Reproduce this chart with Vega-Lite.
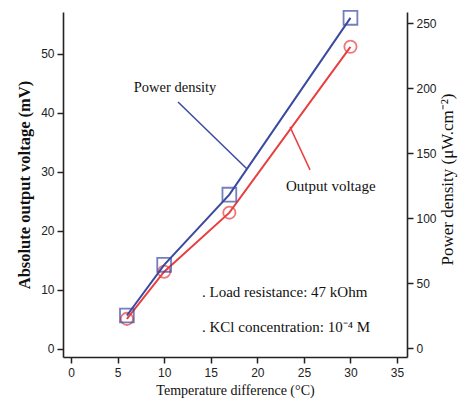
{
  "$schema": "https://vega.github.io/schema/vega-lite/v6.json",
  "width": 344,
  "height": 345,
  "autosize": {"type": "none"},
  "padding": {"left": 63, "top": 12, "right": 58, "bottom": 57},
  "background": "white",
  "config": {
    "view": {"stroke": null},
    "axis": {
      "grid": false,
      "domainColor": "#222",
      "tickColor": "#222",
      "labelColor": "#222",
      "titleColor": "#111",
      "labelFont": "Liberation Sans",
      "labelFontSize": 12,
      "titleFont": "Liberation Serif",
      "titleFontSize": 14,
      "titleFontWeight": "normal",
      "domainWidth": 1.6,
      "tickWidth": 1.5,
      "tickSize": 6,
      "labelPadding": 3
    },
    "text": {"font": "Liberation Serif", "fontSize": 15, "color": "#111"}
  },
  "datasets": {
    "meas": [
      {"dt": 6, "voltage": 5.1, "power": 25},
      {"dt": 10, "voltage": 13.1, "power": 64},
      {"dt": 17, "voltage": 23.1, "power": 118},
      {"dt": 30, "voltage": 51.2, "power": 254}
    ],
    "labels": [
      {"x": 11.17, "y": 44.2, "label": "Power density", "align": "center"},
      {"x": 23.08, "y": 27.6, "label": "Output voltage", "align": "left"},
      {"x": 14.06, "y": 9.66, "label": ". Load resistance: 47 kOhm", "align": "left"},
      {"x": 14.06, "y": 3.73, "label": ". KCl concentration: 10⁻⁴ M", "align": "left"}
    ],
    "pointers": [
      {"series": "power", "x": 11.49, "x2": 18.9, "y": 41.86, "y2": 30.5},
      {"series": "voltage", "x": 23.51, "x2": 25.66, "y": 37.63, "y2": 30.34}
    ]
  },
  "layer": [
    {
      "layer": [
        {
          "data": {"name": "meas"},
          "mark": {"type": "line", "color": "#e8403f", "strokeWidth": 2},
          "encoding": {
            "x": {
              "field": "dt", "type": "quantitative",
              "scale": {"domain": [-0.86, 36.07], "nice": false, "zero": false},
              "axis": {"values": [0, 5, 10, 15, 20, 25, 30, 35], "title": "Temperature difference (°C)", "titleFontSize": 14, "titlePadding": 5, "labelPadding": 4}
            },
            "y": {
              "field": "voltage", "type": "quantitative",
              "scale": {"domain": [-1.36, 57.1], "nice": false, "zero": false},
              "axis": {"orient": "left", "values": [0, 10, 20, 30, 40, 50], "title": "Absolute output voltage (mV)", "titleFontSize": 16.5, "titleFontWeight": "bold", "titlePadding": 8}
            }
          }
        },
        {
          "data": {"name": "meas"},
          "mark": {"type": "point", "shape": "circle", "filled": false, "color": "#e8403f", "size": 150, "strokeWidth": 1.8},
          "encoding": {
            "x": {"field": "dt", "type": "quantitative"},
            "y": {"field": "voltage", "type": "quantitative"}
          }
        },
        {
          "data": {"name": "pointers"},
          "transform": [{"filter": "datum.series === 'power'"}],
          "mark": {"type": "rule", "color": "#3a4aa0", "strokeWidth": 1.5},
          "encoding": {
            "x": {"field": "x", "type": "quantitative"},
            "x2": {"field": "x2"},
            "y": {"field": "y", "type": "quantitative"},
            "y2": {"field": "y2"}
          }
        },
        {
          "data": {"name": "pointers"},
          "transform": [{"filter": "datum.series === 'voltage'"}],
          "mark": {"type": "rule", "color": "#e8403f", "strokeWidth": 1.5},
          "encoding": {
            "x": {"field": "x", "type": "quantitative"},
            "x2": {"field": "x2"},
            "y": {"field": "y", "type": "quantitative"},
            "y2": {"field": "y2"}
          }
        },
        {
          "data": {"name": "labels"},
          "transform": [{"filter": "datum.align === 'center'"}],
          "mark": {"type": "text", "align": "center", "baseline": "middle", "fontSize": 14.5},
          "encoding": {
            "x": {"field": "x", "type": "quantitative"},
            "y": {"field": "y", "type": "quantitative"},
            "text": {"field": "label"}
          }
        },
        {
          "data": {"name": "labels"},
          "transform": [{"filter": "datum.align === 'left'"}],
          "mark": {"type": "text", "align": "left", "baseline": "middle"},
          "encoding": {
            "x": {"field": "x", "type": "quantitative"},
            "y": {"field": "y", "type": "quantitative"},
            "text": {"field": "label"}
          }
        }
      ]
    },
    {
      "data": {"name": "meas"},
      "layer": [
        {
          "mark": {"type": "line", "color": "#3a4aa0", "strokeWidth": 2},
          "encoding": {
            "x": {"field": "dt", "type": "quantitative"},
            "y": {
              "field": "power", "type": "quantitative",
              "scale": {"domain": [-6.9, 258.5], "nice": false, "zero": false},
              "axis": {"orient": "right", "values": [0, 50, 100, 150, 200, 250], "title": "Power density (μW.cm⁻²)", "titleFontSize": 17, "titleAngle": 270, "titleX": 40, "titleY": 167, "titleAlign": "center", "titleBaseline": "middle"}
            }
          }
        },
        {
          "mark": {"type": "point", "shape": "square", "filled": false, "color": "#3a4aa0", "size": 190, "strokeWidth": 1.8},
          "encoding": {
            "x": {"field": "dt", "type": "quantitative"},
            "y": {"field": "power", "type": "quantitative"}
          }
        }
      ]
    }
  ],
  "resolve": {"scale": {"y": "independent"}, "axis": {"y": "independent"}}
}
